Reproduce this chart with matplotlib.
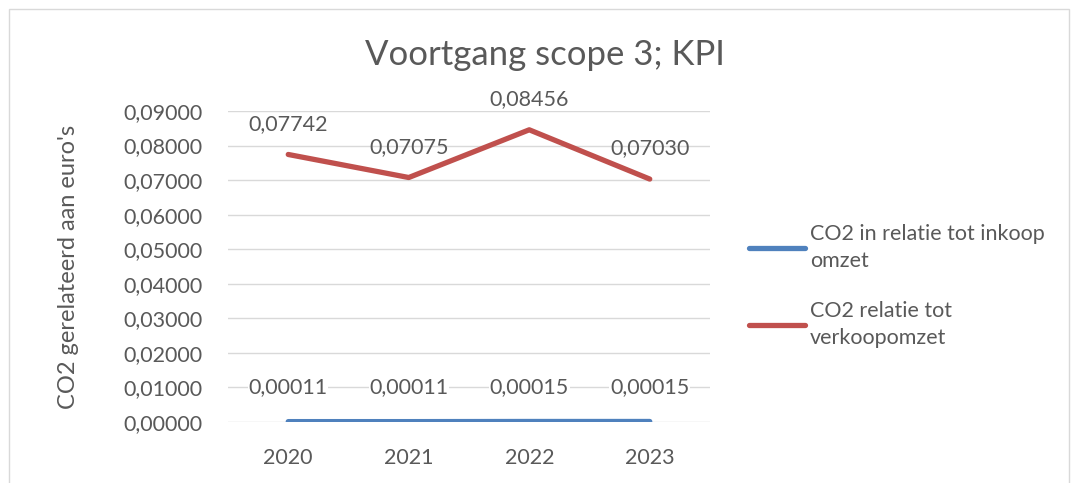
"""Voortgang scope 3; KPI - line chart recreation."""

import matplotlib
matplotlib.use("Agg")
import matplotlib.pyplot as plt
from matplotlib.patches import Rectangle

years = ["2020", "2021", "2022", "2023"]
inkoop = [0.00011, 0.00011, 0.00015, 0.00015]
verkoop = [0.07742, 0.07075, 0.08456, 0.07030]
y_ticks = [0.0, 0.01, 0.02, 0.03, 0.04, 0.05, 0.06, 0.07, 0.08, 0.09]

BLUE = "#4F81BD"
RED = "#C0504D"
TEXT = "#595959"
GRID = "#D9D9D9"
FS = 15.5

plt.rcParams["font.family"] = ["Lato", "DejaVu Sans"]


def fmt(v, decimals=5):
    return f"{v:.{decimals}f}".replace(".", ",")


def main() -> None:
    fig = plt.figure(figsize=(10.78, 4.83), dpi=100)
    fig.patches.append(Rectangle((9 / 1078, -0.01), 1060 / 1078, 1 - 9 / 483 + 0.01,
                                 transform=fig.transFigure, fill=False,
                                 edgecolor="#D9D9D9", linewidth=1.0))

    ax = fig.add_axes([228 / 1078, 1 - 422 / 483, 482 / 1078, 311 / 483])
    x = range(len(years))
    ax.plot(x, inkoop, color=BLUE, linewidth=3.8, solid_capstyle="round",
            label="CO2 in relatie tot inkoop\nomzet", zorder=3)
    ax.plot(x, verkoop, color=RED, linewidth=3.8, solid_capstyle="round",
            label="CO2 relatie tot\nverkoopomzet", zorder=3)

    for xi, v in zip(x, verkoop):
        ax.annotate(fmt(v), (xi, v), xytext=(0, 22), textcoords="offset points",
                    ha="center", va="center", fontsize=FS, color=TEXT)
    for xi, v in zip(x, inkoop):
        ax.annotate(fmt(v), (xi, v), xytext=(0, 25), textcoords="offset points",
                    ha="center", va="center", fontsize=FS, color=TEXT,
                    bbox=dict(facecolor="white", edgecolor="none", pad=0.5))

    ax.set_xlim(-0.5, 3.5)
    ax.set_ylim(0, 0.09)
    ax.set_yticks(y_ticks)
    ax.set_yticklabels([fmt(t) for t in y_ticks])
    ax.set_xticks(list(x))
    ax.set_xticklabels(years)
    ax.tick_params(axis="both", length=0, labelsize=FS, labelcolor=TEXT)
    ax.tick_params(axis="y", pad=18)
    ax.tick_params(axis="x", pad=19)
    ax.grid(axis="y", color=GRID, linewidth=1.0)
    ax.set_axisbelow(True)
    for s in ax.spines.values():
        s.set_visible(False)

    ax.set_ylabel("CO2 gerelateerd aan euro's", fontsize=17, color=TEXT, labelpad=32)
    fig.text(545 / 1078, 1 - 55 / 483, "Voortgang scope 3; KPI", ha="center", va="center",
             fontsize=25, color=TEXT)

    leg = fig.legend(loc="center left", bbox_to_anchor=(730 / 1078, 1 - 286 / 483),
                     frameon=False, fontsize=FS, labelcolor=TEXT, handlelength=2.6,
                     handletextpad=0.2, labelspacing=1.4)
    for t in leg.get_texts():
        t.set_linespacing(1.45)

    fig.savefig("out.png", dpi=100)


if __name__ == "__main__":
    main()
